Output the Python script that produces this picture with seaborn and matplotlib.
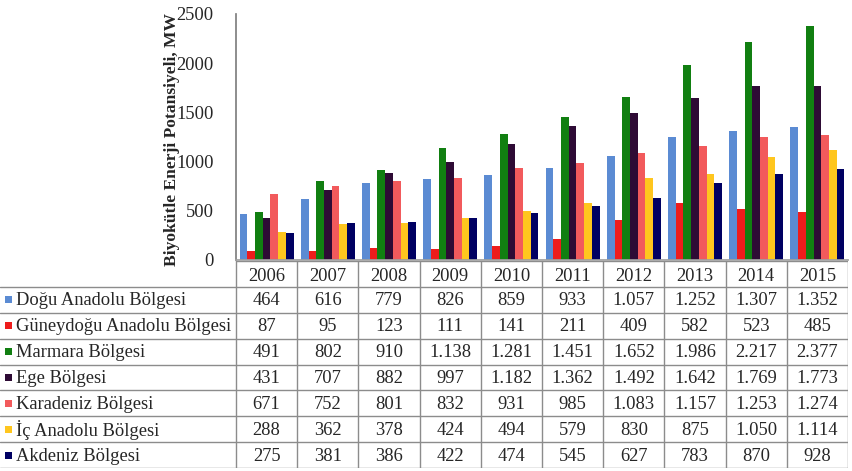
import matplotlib
matplotlib.use("Agg")
import matplotlib.pyplot as plt
from matplotlib.patches import Rectangle
import seaborn as sns
import pandas as pd

years = [2006, 2007, 2008, 2009, 2010, 2011, 2012, 2013, 2014, 2015]
regions = ["Doğu Anadolu Bölgesi", "Güneydoğu Anadolu Bölgesi", "Marmara Bölgesi",
           "Ege Bölgesi", "Karadeniz Bölgesi", "İç Anadolu Bölgesi", "Akdeniz Bölgesi"]
dogu = [464, 616, 779, 826, 859, 933, 1057, 1252, 1307, 1352]
guneydogu = [87, 95, 123, 111, 141, 211, 409, 582, 523, 485]
marmara = [491, 802, 910, 1138, 1281, 1451, 1652, 1986, 2217, 2377]
ege = [431, 707, 882, 997, 1182, 1362, 1492, 1642, 1769, 1773]
karadeniz = [671, 752, 801, 832, 931, 985, 1083, 1157, 1253, 1274]
ic_anadolu = [288, 362, 378, 424, 494, 579, 830, 875, 1050, 1114]
akdeniz = [275, 381, 386, 422, 474, 545, 627, 783, 870, 928]
series = [dogu, guneydogu, marmara, ege, karadeniz, ic_anadolu, akdeniz]
colors = ["#5B8BD3", "#EE1C1C", "#117F11", "#2E0B35", "#F25A5C", "#FFC61E", "#000062"]
y_ticks = [0, 500, 1000, 1500, 2000, 2500]
ylabel = "Biyokütle Enerji Potansiyeli, MW"

rows = []
for r, vals in zip(regions, series):
    for y, v in zip(years, vals):
        rows.append({"Yıl": str(y), "Bölge": r, "Değer": v})
df = pd.DataFrame(rows)

sns.set_theme(style="white")
plt.rcParams["font.family"] = ["Liberation Serif", "DejaVu Serif"]

W, H = 852, 471
fig = plt.figure(figsize=(W / 100, H / 100), dpi=100)
fig.patch.set_facecolor("white")

fs = 13.3
x0, x1 = 236, 848      # plot/table column span (px)
ytop, ybot = 14, 260   # plot vertical span (px)
ax = fig.add_axes([x0 / W, (H - ybot) / H, (x1 - x0) / W, (ybot - ytop) / H])
sns.barplot(data=df, x="Yıl", y="Değer", hue="Bölge", hue_order=regions,
            palette=colors, width=0.88, ax=ax, legend=False, saturation=1,
            edgecolor="none", linewidth=0)
ax.set_xlim(-0.5, len(years) - 0.5)
ax.set_ylim(0, 2500)
ax.set_yticks(y_ticks)
ax.set_yticklabels([str(t) for t in y_ticks], fontsize=fs)
ax.tick_params(axis="y", length=0, pad=16)
ax.set_xticks([])
ax.set_xlabel("")
ax.set_ylabel(ylabel, fontsize=12.6, fontweight="bold")
ax.yaxis.set_label_coords(-0.092, 0.49)
for s in ["top", "right"]:
    ax.spines[s].set_visible(False)
ax.spines["left"].set_color("#808080")
ax.spines["bottom"].set_color("#A0A0A0")
ax.patch.set_alpha(0)

# table
t_top, hdr_bot, t_bot = 261, 287, 468
axt = fig.add_axes([0, (H - t_bot) / H, x1 / W, (t_bot - t_top) / H])
axt.set_xlim(0, x1)
axt.set_ylim(t_bot, t_top)
axt.axis("off")
lc = "#8C8C8C"
ncol = len(years)
colw = (x1 - x0) / ncol
rowh = (t_bot - hdr_bot) / len(regions)
# header
for i, y in enumerate(years):
    cx = x0 + (i + 0.5) * colw
    axt.text(cx, (t_top + hdr_bot) / 2 + 2, str(y), ha="center", va="center", fontsize=fs)
for i in range(ncol + 1):
    xx = x0 + i * colw
    axt.plot([xx, xx], [t_top, t_bot], color=lc, lw=1)
axt.plot([x0, x1], [t_top, t_top], color=lc, lw=1)
for j in range(len(regions) + 1):
    yy = hdr_bot + j * rowh
    axt.plot([0, x1], [yy, yy], color=lc, lw=1)
for j, (r, vals, c) in enumerate(zip(regions, series, colors)):
    cy = hdr_bot + (j + 0.5) * rowh
    axt.add_patch(Rectangle((5, cy - 3.5), 7, 7, facecolor=c, edgecolor="none"))
    axt.text(16, cy + 1, r, ha="left", va="center", fontsize=fs)
    for i, v in enumerate(vals):
        cx = x0 + (i + 0.5) * colw
        axt.text(cx, cy + 1, f"{v:,}".replace(",", "."), ha="center", va="center", fontsize=fs)

fig.savefig("out.png", dpi=100, facecolor="white")
